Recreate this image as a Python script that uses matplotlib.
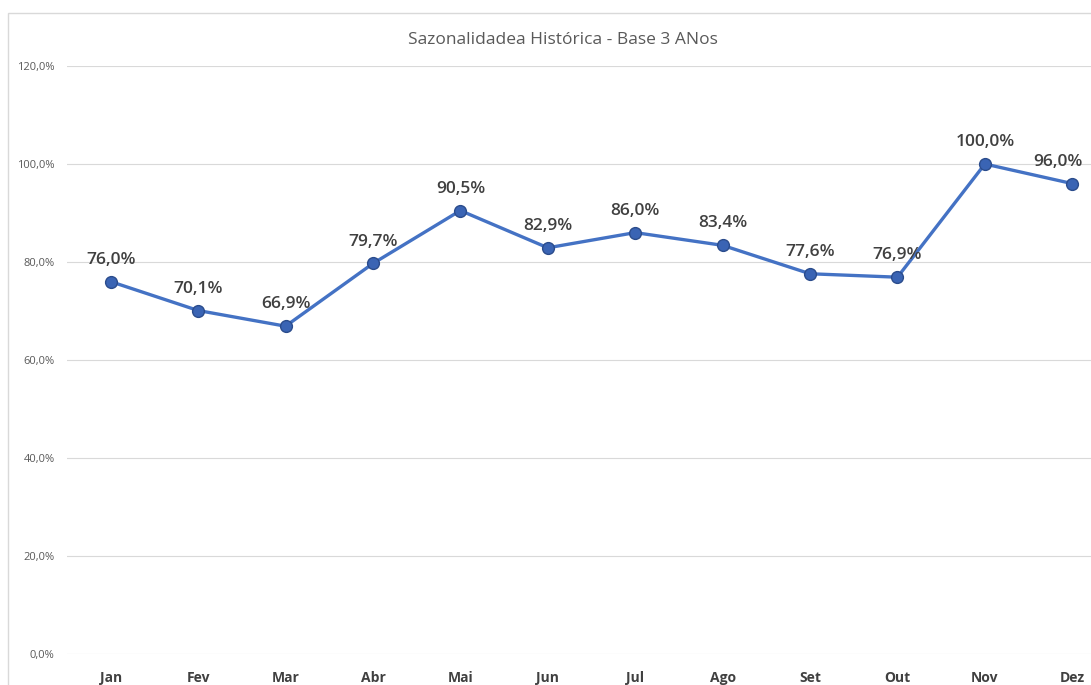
import matplotlib
matplotlib.use("Agg")
import matplotlib.pyplot as plt
from matplotlib.patches import Rectangle

plt.rcParams["font.family"] = ["Open Sans", "DejaVu Sans"]

MONTHS = ["Jan", "Fev", "Mar", "Abr", "Mai", "Jun",
          "Jul", "Ago", "Set", "Out", "Nov", "Dez"]
SAZON = [76.0, 70.1, 66.9, 79.7, 90.5, 82.9, 86.0, 83.4, 77.6, 76.9, 100.0, 96.0]
YTICKS = [0, 20, 40, 60, 80, 100, 120]


def pct(v):
    return f"{v:.1f}%".replace(".", ",")


W, H = 1091, 685
fig = plt.figure(figsize=(W / 100, H / 100), dpi=100)
fig.patches.append(Rectangle((8 / W, -0.01), 1.2, (H - 13) / H + 0.01,
                             transform=fig.transFigure, fill=False,
                             ec="#d9d9d9", lw=1.0))
# plot area runs past the right edge (cropped screenshot)
ax = fig.add_axes([67 / W, 31 / H, (1116 - 67) / W, 588 / H])
x = range(len(MONTHS))
ax.plot(x, SAZON, color="#4472c4", lw=2.4, marker="o", ms=8.5,
        mfc="#3a64b4", mec="#2b4c8c", mew=1.0, zorder=3)
for i, v in zip(x, SAZON):
    dx = -10 if i == len(MONTHS) - 1 else 0
    ax.annotate(pct(v), (i, v), textcoords="offset points", xytext=(dx, 10),
                ha="center", va="bottom", fontsize=12.5, fontweight=600,
                color="#404040")
ax.set_xlim(-0.5, len(MONTHS) - 0.5)
ax.set_ylim(0, 120)
ax.set_yticks(YTICKS)
ax.set_yticklabels([pct(t) for t in YTICKS], fontsize=8, color="#595959")
ax.set_xticks(list(x))
ax.set_xticklabels(MONTHS, fontsize=10, fontweight="bold", color="#404040")
ax.grid(axis="y", color="#d9d9d9", lw=0.8)
ax.tick_params(length=0)
ax.tick_params(axis="x", pad=12)
ax.tick_params(axis="y", pad=9)
for s in ax.spines.values():
    s.set_visible(False)
ax.set_axisbelow(True)
fig.text(563 / W, 1 - 40 / H, "Sazonalidadea Histórica - Base 3 ANos",
         ha="center", va="center", fontsize=12.5, color="#595959")
fig.savefig("out.png", dpi=100)
